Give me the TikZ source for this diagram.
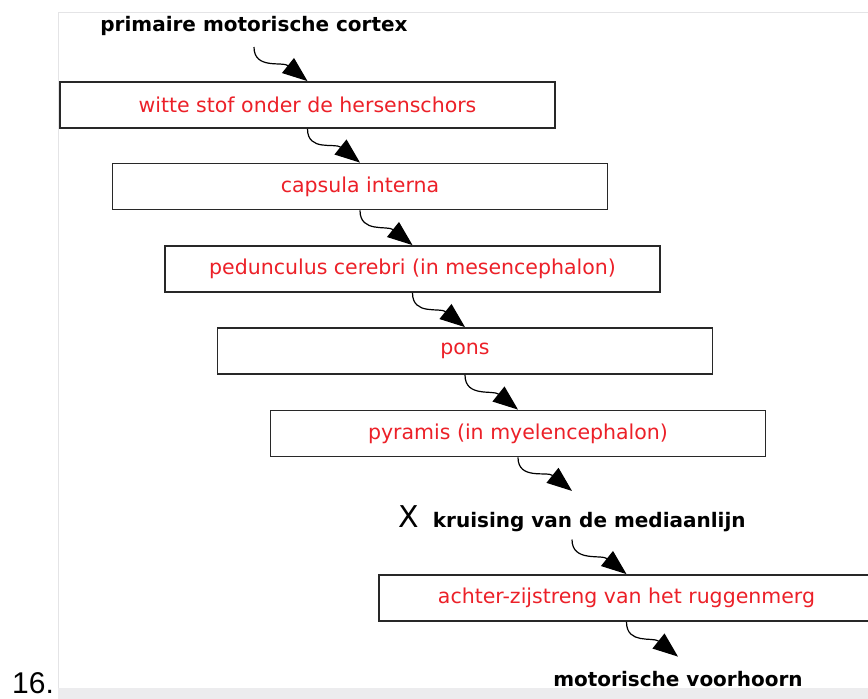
\documentclass[tikz,border=0pt]{standalone}
\usepackage{fontspec}
\setmainfont{DejaVu Sans}
\newfontfamily\arialf{Liberation Sans}
\usetikzlibrary{arrows.meta}
\definecolor{txtred}{RGB}{236,32,40}
\definecolor{framegray}{RGB}{228,228,230}
\definecolor{stripgray}{RGB}{236,236,238}
\definecolor{boxline}{RGB}{40,40,40}
\begin{document}
\begin{tikzpicture}[x=1pt,y=-1pt,
  stage/.style={draw=boxline, line width=1.8pt, minimum width=495pt, minimum height=46pt, inner sep=0pt, text=txtred, font=\fontsize{20.5pt}{24pt}\selectfont},
  blabel/.style={font=\fontsize{20pt}{24pt}\selectfont\bfseries, inner sep=0pt, anchor=base},
  flow/.style={line width=1.2pt, -{Triangle[length=25pt,width=19pt]}, to path={.. controls +(0pt,-23pt) and +(-25pt,20pt) .. (\tikztotarget)}}]
\useasboundingbox (0,0) rectangle (868,699);
\fill[white] (0,0) rectangle (868,699);
% frame
\fill[stripgray] (58,688) rectangle (868,699);
\draw[framegray, line width=1.5pt] (58.5,688) -- (58.5,12.5) -- (868,12.5);
% nodes
\node[blabel] (title) at (254,31) {primaire motorische cortex};
\node[stage] (b1) at (307.5,105) {witte stof onder de hersenschors};
\node[stage] (b2) at (360,186.5) {capsula interna};
\node[stage] (b3) at (412.5,269) {pedunculus cerebri (in mesencephalon)};
\node[stage] (b4) at (465,351) {pons};
\node[stage] (b5) at (518,433.5) {pyramis (in myelencephalon)};
\node[blabel] (cross) at (572,527) {{\fontsize{30pt}{30pt}\mdseries X}\hspace{14pt}kruising van de mediaanlijn};
\node[stage] (b6) at (626.5,598) {achter-zijstreng van het ruggenmerg};
\node[blabel] (motor) at (678,686) {motorische voorhoorn};
\node[font=\arialf\fontsize{30pt}{32pt}\selectfont, anchor=base west, inner sep=0pt] (num) at (12,693) {16.};
% connectors
\draw[flow] ([yshift=-16pt]title.base) to (b1.north);
\draw[flow] (b1.south) to (b2.north);
\draw[flow] (b2.south) to (b3.north);
\draw[flow] (b3.south) to (b4.north);
\draw[flow] (b4.south) to (b5.north);
\draw[flow] (b5.south) to ([yshift=14pt]cross.north);
\draw[flow] ([yshift=-8pt]cross.south) to (b6.north);
\draw[flow] (b6.south) to ([yshift=14pt]motor.north);
\end{tikzpicture}
\end{document}
